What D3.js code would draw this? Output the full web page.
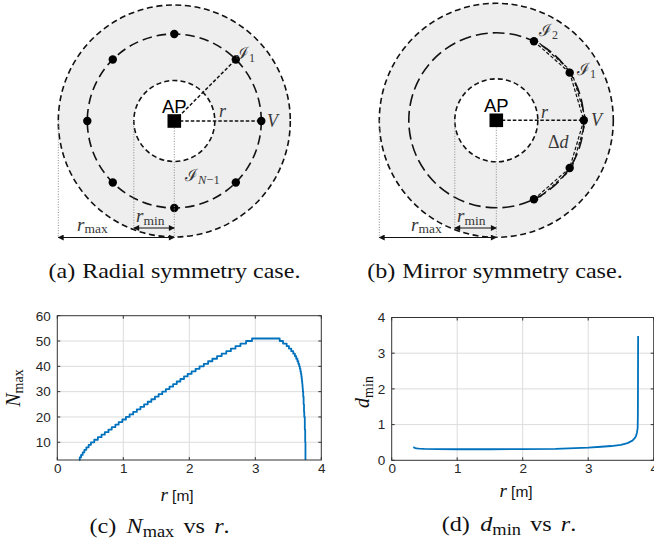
<!DOCTYPE html>
<html><head><meta charset="utf-8">
<script src="https://cdn.jsdelivr.net/npm/d3@7"></script>
<style>body{margin:0;background:#fff}svg{display:block}</style>
</head><body>
<script>
// ---------------- data ----------------
const radialDotAngles = [0, 45, 90, 135, 180, 225, 270, 315];   // degrees, (a)
const mirrorDotAngles = [64.5, 33, 0, -33, -64.5];              // degrees, (b)

// N_max staircase (r in m, N integer)
const nmaxR = [0.33,0.34,0.36,0.385,0.41,0.44,0.475,0.51,0.56,0.615,0.67,0.72,0.775,0.825,0.88,0.93,0.985,
  1.04,1.095,1.15,1.205,1.26,1.315,1.37,1.425,1.48,1.535,1.59,1.645,1.70,1.755,1.81,1.865,1.92,1.975,
  2.035,2.095,2.155,2.22,2.285,2.35,2.42,2.49,2.56,2.63,2.70,2.775,2.86,2.95,
  3.37,3.42,3.475,3.51,3.545,3.575,3.60,3.62,3.638,3.652,3.665,3.675,3.684,3.692,3.698,3.703,3.707,3.711,
  3.715,3.718,3.721,3.726,3.732,3.738,3.742,3.75,3.756,3.76];
const nmaxN = [3,4,5,6,7,8,9,10,11,12,13,14,15,16,17,18,19,
  20,21,22,23,24,25,26,27,28,29,30,31,32,33,34,35,36,37,
  38,39,40,41,42,43,44,45,46,47,48,49,50,51,
  50,49,48,47,46,45,44,43,42,41,40,39,38,37,36,35,34,33,
  32,31,30,28,25,22,20,15,10,3];

// d_min curve
const dminR = [0.33,0.35,0.38,0.42,0.5,0.7,1.0,1.5,2.0,2.5,2.8,3.0,3.2,3.35,3.5,3.6,3.675,3.71,3.73,3.745,3.755,3.758,3.76,3.762];
const dminD = [0.37,0.35,0.335,0.325,0.318,0.312,0.31,0.31,0.313,0.322,0.34,0.355,0.38,0.40,0.43,0.48,0.55,0.62,0.68,0.78,0.9,1.2,2.0,3.48];

const xTicks = [0, 1, 2, 3, 4];
const nmaxYTicks = [10, 20, 30, 40, 50, 60];
const dminYTicks = [0, 1, 2, 3, 4];

// ---------------- drawing ----------------
const W = 654, H = 548;
const svg = d3.select("body").append("svg").attr("width", W).attr("height", H);
svg.append("rect").attr("width", W).attr("height", H).attr("fill", "#fff");

const defs = svg.append("defs");
defs.append("marker").attr("id", "arr").attr("viewBox", "0 0 10 10").attr("refX", 9).attr("refY", 5)
  .attr("markerWidth", 7).attr("markerHeight", 6).attr("markerUnits", "userSpaceOnUse")
  .attr("orient", "auto-start-reverse")
  .append("path").attr("d", "M0,0L10,5L0,10z").attr("fill", "#111");

const SERIF = "'Liberation Serif', 'DejaVu Serif', serif";
const SANS = "'Liberation Sans', Arial, Helvetica, sans-serif";

function mathLabel(g, x, y, parts, opts = {}) {
  const t = g.append("text").attr("x", x).attr("y", y).attr("fill", opts.fill || "#383838")
    .attr("font-family", SERIF).attr("text-anchor", opts.anchor || "start");
  if (opts.rotate) t.attr("transform", `rotate(-90,${x},${y})`);
  parts.forEach(p => {
    const s = t.append("tspan").text(p.t).attr("font-size", p.size || 16);
    if (p.it) s.attr("font-style", "italic");
    if (p.dy) s.attr("dy", p.dy);
    if (p.dx) s.attr("dx", p.dx);
    if (p.ff) s.attr("font-family", p.ff);
  });
  return t;
}

function diagram(cfg) {
  const g = svg.append("g");
  const { cx, cy, rOut, rMid, rIn, dashMid, angles } = cfg;
  const pt = a => [cx + rMid * Math.cos(a * Math.PI / 180), cy - rMid * Math.sin(a * Math.PI / 180)];

  g.append("circle").attr("cx", cx).attr("cy", cy).attr("r", rOut)
    .attr("fill", "#eeeeee").attr("stroke", "#111").attr("stroke-width", 1.6).attr("stroke-dasharray", "6,3.6");
  g.append("circle").attr("cx", cx).attr("cy", cy).attr("r", rIn)
    .attr("fill", "#fff").attr("stroke", "#111").attr("stroke-width", 1.6).attr("stroke-dasharray", "5,3.2");
  g.append("circle").attr("cx", cx).attr("cy", cy).attr("r", rMid)
    .attr("fill", "none").attr("stroke", "#111").attr("stroke-width", 1.6).attr("stroke-dasharray", dashMid);

  // dashed radii
  cfg.rays.forEach(a => {
    const p = pt(a);
    g.append("line").attr("x1", cx).attr("y1", cy).attr("x2", p[0]).attr("y2", p[1])
      .attr("stroke", "#111").attr("stroke-width", 1.5).attr("stroke-dasharray", "3.5,2");
  });
  // chords (mirror case)
  if (cfg.chords) {
    for (let i = 0; i < angles.length - 1; i++) {
      const p = pt(angles[i]), q = pt(angles[i + 1]);
      const mx = (p[0] + q[0]) / 2 - cx, my = (p[1] + q[1]) / 2 - cy, L = Math.hypot(mx, my);
      [0, 2.2].forEach(off => {
        g.append("line").attr("x1", p[0] + mx / L * off).attr("y1", p[1] + my / L * off)
          .attr("x2", q[0] + mx / L * off).attr("y2", q[1] + my / L * off)
          .attr("stroke", "#111").attr("stroke-width", 1.2).attr("stroke-dasharray", "3.5,2");
      });
    }
  }
  // dots
  angles.forEach(a => {
    const p = pt(a);
    g.append("circle").attr("cx", p[0]).attr("cy", p[1]).attr("r", 4.2).attr("fill", "#000");
  });
  // AP square
  g.append("rect").attr("x", cx - 6.8).attr("y", cy - 6.8).attr("width", 13.6).attr("height", 13.6).attr("fill", "#000");

  // dotted guide lines
  const yMin = 228, yMax = 237.5;
  const dot = (x, y1, y2) => g.append("line").attr("x1", x).attr("x2", x).attr("y1", y1).attr("y2", y2)
    .attr("stroke", "#8a8a8a").attr("stroke-width", 1).attr("stroke-dasharray", "1,1.6");
  dot(cx - rOut, cy, yMax);
  dot(cx - rIn, cy, yMin);
  dot(cx, cy + 7, yMax);
  // arrows
  const arrow = (x1, x2, y) => g.append("line").attr("x1", x1).attr("x2", x2).attr("y1", y).attr("y2", y)
    .attr("stroke", "#111").attr("stroke-width", 1.2)
    .attr("marker-start", "url(#arr)").attr("marker-end", "url(#arr)");
  arrow(cx - rIn, cx, yMin);
  arrow(cx - rOut, cx, yMax);

  // labels
  g.append("text").attr("x", cx).attr("y", cy - 8).attr("text-anchor", "middle")
    .attr("font-family", SANS).attr("font-size", 18.5).attr("fill", "#000").text("AP");
  mathLabel(g, cfg.rminX, yMin - 6, [{ t: "r", it: true, size: 19 }, { t: "min", size: 13.5, dy: 2.5 }]);
  mathLabel(g, cfg.rmaxX, yMax - 7, [{ t: "r", it: true, size: 19 }, { t: "max", size: 13.5, dy: 2.5 }]);
  cfg.labels.forEach(l => mathLabel(g, l.x, l.y, l.parts));
  return g;
}

diagram({
  cx: 174.3, cy: 121, rOut: 116, rMid: 87, rIn: 40.5, dashMid: "9.5,5",
  angles: radialDotAngles, rays: [45, 0], chords: false,
  rminX: 136, rmaxX: 77,
  labels: [
    { x: 219, y: 117, parts: [{ t: "r", it: true, size: 18 }] },
    { x: 267, y: 127, parts: [{ t: "V", it: true, size: 18 }] },
    { x: 236, y: 59, parts: [{ t: "ℐ", size: 17 }, { t: "1", size: 12, dy: 3 }] },
    { x: 185, y: 181, parts: [{ t: "ℐ", size: 17 }, { t: "N", it: true, size: 12.5, dy: 3 }, { t: "−1", size: 12.5 }] }
  ]
});

diagram({
  cx: 496.3, cy: 120.3, rOut: 117, rMid: 87.5, rIn: 41.5, dashMid: "12,5",
  angles: mirrorDotAngles, rays: [0], chords: true,
  rminX: 457, rmaxX: 411,
  labels: [
    { x: 541, y: 118, parts: [{ t: "r", it: true, size: 18 }] },
    { x: 591, y: 126, parts: [{ t: "V", it: true, size: 18 }] },
    { x: 539, y: 36, parts: [{ t: "ℐ", size: 17 }, { t: "2", size: 12, dy: 3 }] },
    { x: 577, y: 75, parts: [{ t: "ℐ", size: 17 }, { t: "1", size: 12, dy: 3 }] },
    { x: 548, y: 148, parts: [{ t: "Δ", size: 18 }, { t: "d", it: true, size: 18 }] }
  ]
});

// captions: widened horizontally (Palatino-like proportions), centred on measured position
function caption(x, y, width, parts) {
  const g = svg.append("g");
  const t = g.append("text").attr("x", 0).attr("y", 0).attr("text-anchor", "middle")
    .attr("font-family", SERIF).attr("fill", "#111");
  parts.forEach(p => {
    const s = t.append("tspan").text(p.t).attr("font-size", p.size || 21);
    if (p.it) s.attr("font-style", "italic");
    if (p.dy) s.attr("dy", p.dy);
    if (p.dx) s.attr("dx", p.dx);
  });
  const w = t.node().getComputedTextLength();
  const sx = Math.max(1, Math.min(1.15, width / w));
  g.attr("transform", `translate(${x},${y}) scale(${sx},1)`);
}
caption(174.5, 278, 245, [{ t: "(a)" }, { t: "Radial symmetry case.", dx: 6 }]);
caption(495, 278, 250, [{ t: "(b)" }, { t: "Mirror symmetry case.", dx: 6 }]);
caption(159.5, 533, 165, [{ t: "(c)" }, { t: "N", it: true, dx: 9 }, { t: "max", size: 16, dy: 3.5 }, { t: "vs", dy: -3.5, dx: 8 }, { t: "r", it: true, dx: 8 }, { t: "." }]);
caption(509, 531, 128, [{ t: "(d)" }, { t: "d", it: true, dx: 9 }, { t: "min", size: 16, dy: 3.5 }, { t: "vs", dy: -3.5, dx: 8 }, { t: "r", it: true, dx: 8 }, { t: "." }]);

// ---------------- plots ----------------
function plot(cfg) {
  const g = svg.append("g");
  const x = d3.scaleLinear().domain([0, 4]).range(cfg.xr);
  const y = d3.scaleLinear().domain(cfg.yd).range(cfg.yr);
  const [x0, x1] = cfg.xr, [y0, y1] = cfg.yr; // y0 bottom, y1 top
  // grid
  g.selectAll(".gx").data(xTicks.filter(v => v > 0 && v < 4)).join("line")
    .attr("x1", d => x(d)).attr("x2", d => x(d)).attr("y1", y0).attr("y2", y1)
    .attr("stroke", "#dcdcdc").attr("stroke-width", 1);
  g.selectAll(".gy").data(cfg.yTicks.filter(v => y(v) < y0 - 1 && y(v) > y1 + 1)).join("line")
    .attr("y1", d => y(d)).attr("y2", d => y(d)).attr("x1", x0).attr("x2", x1)
    .attr("stroke", "#dcdcdc").attr("stroke-width", 1);
  // line
  const line = d3.line().x(d => x(d[0])).y(d => y(d[1])).curve(cfg.curve);
  g.append("path").datum(cfg.xs.map((v, i) => [v, cfg.ys[i]]))
    .attr("d", line).attr("fill", "none").attr("stroke", "#0072BD").attr("stroke-width", 1.8)
    .attr("stroke-linejoin", "round");
  // inner ticks (all four sides)
  const tl = 3;
  xTicks.forEach(v => {
    g.append("line").attr("x1", x(v)).attr("x2", x(v)).attr("y1", y0).attr("y2", y0 - tl).attr("stroke", "#333");
    g.append("line").attr("x1", x(v)).attr("x2", x(v)).attr("y1", y1).attr("y2", y1 + tl).attr("stroke", "#333");
  });
  cfg.yTicks.forEach(v => {
    g.append("line").attr("y1", y(v)).attr("y2", y(v)).attr("x1", x0).attr("x2", x0 + tl).attr("stroke", "#333");
    g.append("line").attr("y1", y(v)).attr("y2", y(v)).attr("x1", x1).attr("x2", x1 - tl).attr("stroke", "#333");
  });
  // box
  g.append("rect").attr("x", x0).attr("y", y1).attr("width", x1 - x0).attr("height", y0 - y1)
    .attr("fill", "none").attr("stroke", "#333").attr("stroke-width", 1);
  // tick labels via d3 axes
  const ax = g.append("g").attr("transform", `translate(0,${y0})`)
    .call(d3.axisBottom(x).tickValues(xTicks).tickSize(0).tickPadding(3).tickFormat(d3.format("d")));
  const ay = g.append("g").attr("transform", `translate(${x0},0)`)
    .call(d3.axisLeft(y).tickValues(cfg.yTicks).tickSize(0).tickPadding(6.5).tickFormat(d3.format("d")));
  [ax, ay].forEach(a => {
    a.select(".domain").remove();
    a.selectAll("text").attr("font-family", SANS).attr("font-size", 13.5).attr("fill", "#262626");
  });
  // axis labels
  const xl = svg.append("text").attr("x", cfg.xlab[0]).attr("y", cfg.xlab[1]).attr("text-anchor", "middle").attr("fill", "#111");
  xl.append("tspan").text("r").attr("font-style", "italic").attr("font-family", SERIF).attr("font-size", 19);
  xl.append("tspan").text(" [m]").attr("font-family", SANS).attr("font-size", 15.5);
  mathLabel(svg, cfg.ylab[0], cfg.ylab[1], cfg.ylabParts, { rotate: true, anchor: "middle", fill: "#111" });
}

plot({
  xr: [57.3, 321.3], yr: [460, 315.7], yd: [3, 60], yTicks: nmaxYTicks,
  xs: nmaxR, ys: nmaxN, curve: d3.curveStepAfter,
  xlab: [177, 501], ylab: [19.5, 388],
  ylabParts: [{ t: "N", it: true, size: 20 }, { t: "max", size: 14, dy: 3.5 }]
});
plot({
  xr: [391.7, 653.7], yr: [460.3, 317.5], yd: [0, 4], yTicks: dminYTicks,
  xs: dminR, ys: dminD, curve: d3.curveLinear,
  xlab: [516, 497], ylab: [369, 392],
  ylabParts: [{ t: "d", it: true, size: 20 }, { t: "min", size: 14, dy: 3.5 }]
});
</script>
</body></html>
